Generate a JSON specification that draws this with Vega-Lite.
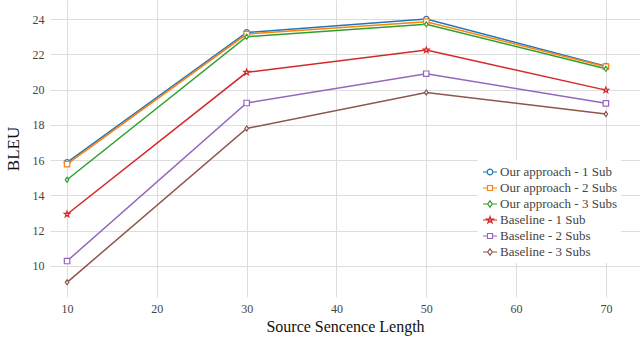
{
  "$schema": "https://vega.github.io/schema/vega-lite/v6.json",
  "width": 590,
  "height": 297,
  "autosize": {"type": "none"},
  "padding": {"left": 50, "top": 0, "right": 0, "bottom": 40},
  "background": "white",
  "config": {
    "view": {"stroke": null},
    "font": "Liberation Serif",
    "axis": {"labelFont": "Liberation Serif", "titleFont": "Liberation Serif", "gridColor": "#dddddd", "domain": false, "ticks": false, "labelColor": "#444444", "labelFontSize": 12, "titleFontSize": 17, "titleFontWeight": "normal", "titleColor": "#111111"}
  },
  "data": {"values": [
    {"len": 10, "bleu": 15.87, "s": "Our approach - 1 Sub"},
    {"len": 30, "bleu": 23.24, "s": "Our approach - 1 Sub"},
    {"len": 50, "bleu": 24.0, "s": "Our approach - 1 Sub"},
    {"len": 70, "bleu": 21.33, "s": "Our approach - 1 Sub"},
    {"len": 10, "bleu": 15.77, "s": "Our approach - 2 Subs"},
    {"len": 30, "bleu": 23.15, "s": "Our approach - 2 Subs"},
    {"len": 50, "bleu": 23.85, "s": "Our approach - 2 Subs"},
    {"len": 70, "bleu": 21.3, "s": "Our approach - 2 Subs"},
    {"len": 10, "bleu": 14.89, "s": "Our approach - 3 Subs"},
    {"len": 30, "bleu": 23.0, "s": "Our approach - 3 Subs"},
    {"len": 50, "bleu": 23.7, "s": "Our approach - 3 Subs"},
    {"len": 70, "bleu": 21.18, "s": "Our approach - 3 Subs"},
    {"len": 10, "bleu": 12.93, "s": "Baseline - 1 Sub"},
    {"len": 30, "bleu": 20.98, "s": "Baseline - 1 Sub"},
    {"len": 50, "bleu": 22.24, "s": "Baseline - 1 Sub"},
    {"len": 70, "bleu": 19.97, "s": "Baseline - 1 Sub"},
    {"len": 10, "bleu": 10.28, "s": "Baseline - 2 Subs"},
    {"len": 30, "bleu": 19.24, "s": "Baseline - 2 Subs"},
    {"len": 50, "bleu": 20.9, "s": "Baseline - 2 Subs"},
    {"len": 70, "bleu": 19.22, "s": "Baseline - 2 Subs"},
    {"len": 10, "bleu": 9.07, "s": "Baseline - 3 Subs"},
    {"len": 30, "bleu": 17.8, "s": "Baseline - 3 Subs"},
    {"len": 50, "bleu": 19.84, "s": "Baseline - 3 Subs"},
    {"len": 70, "bleu": 18.61, "s": "Baseline - 3 Subs"}
  ]},
  "encoding": {
    "x": {"field": "len", "type": "quantitative", "scale": {"domain": [8.1, 73.8], "nice": false, "zero": false}, "axis": {"values": [10, 20, 30, 40, 50, 60, 70], "title": "Source Sencence Length", "titleFontSize": 16, "labelPadding": 6, "titlePadding": 4}},
    "y": {"field": "bleu", "type": "quantitative", "scale": {"domain": [8.24, 25.08], "nice": false, "zero": false}, "axis": {"values": [10, 12, 14, 16, 18, 20, 22, 24], "title": "BLEU", "labelPadding": 6, "titlePadding": 10}},
    "color": {"field": "s", "type": "nominal", "sort": null, "legend": null,
      "scale": {"domain": ["Our approach - 1 Sub", "Our approach - 2 Subs", "Our approach - 3 Subs", "Baseline - 1 Sub", "Baseline - 2 Subs", "Baseline - 3 Subs"], "range": ["#1f77b4", "#ff7f0e", "#2ca02c", "#d62728", "#9467bd", "#8c564b"]}}
  },
  "layer": [
    {"mark": {"type": "line", "strokeWidth": 1.5},
     "encoding": {
      "color": {"field": "s", "type": "nominal", "sort": null,
        "legend": {"title": null, "orient": "none", "legendX": 428, "legendY": 160, "fillColor": "white", "padding": 4, "labelFont": "Liberation Serif", "labelFontSize": 13, "labelColor": "#444444", "symbolSize": 196, "rowPadding": 1, "labelOffset": 2, "symbolStrokeWidth": 1.2,
          "encode": {"symbols": {"update": {
            "fill": {"value": "white"},
            "strokeWidth": {"value": 1.2},
            "shape": {"signal": "datum.value == 'Our approach - 1 Sub' ? 'M-1,0L-0.4,0M0.4,0L1,0M0.4,0A0.4,0.4,0,1,1,-0.4,0A0.4,0.4,0,1,1,0.4,0Z' : datum.value == 'Our approach - 2 Subs' || datum.value == 'Baseline - 2 Subs' ? 'M-1,0L-0.36,0M0.36,0L1,0M-0.36,-0.36H0.36V0.36H-0.36Z' : datum.value == 'Baseline - 1 Sub' ? 'M-1,0L1,0M0,-0.5L0.12,-0.16L0.48,-0.15L0.19,0.06L0.3,0.4L0,0.2L-0.3,0.4L-0.19,0.06L-0.48,-0.15L-0.12,-0.16Z' : 'M-1,0L-0.33,0M0.33,0L1,0M0,-0.45L0.33,0L0,0.45L-0.33,0Z'"}
          }}}}}
     }},
    {"transform": [{"filter": {"field": "s", "equal": "Our approach - 1 Sub"}}],
     "mark": {"type": "point", "shape": "circle", "filled": false, "fill": "white", "fillOpacity": 1, "size": 30, "strokeWidth": 1.2}},
    {"transform": [{"filter": {"field": "s", "equal": "Our approach - 2 Subs"}}],
     "mark": {"type": "point", "shape": "square", "filled": false, "fill": "white", "fillOpacity": 1, "size": 30, "strokeWidth": 1.2}},
    {"transform": [{"filter": {"field": "s", "equal": "Our approach - 3 Subs"}}],
     "mark": {"type": "point", "shape": "M0,-0.9L0.65,0L0,0.9L-0.65,0Z", "filled": false, "fill": "white", "fillOpacity": 1, "size": 30, "strokeWidth": 1.2}},
    {"transform": [{"filter": {"field": "s", "equal": "Baseline - 1 Sub"}}],
     "mark": {"type": "point", "shape": "M0,-1L0.24,-0.33L0.95,-0.31L0.38,0.12L0.59,0.81L0,0.4L-0.59,0.81L-0.38,0.12L-0.95,-0.31L-0.24,-0.33Z", "filled": false, "fill": "white", "fillOpacity": 1, "size": 36, "strokeWidth": 1.2}},
    {"transform": [{"filter": {"field": "s", "equal": "Baseline - 2 Subs"}}],
     "mark": {"type": "point", "shape": "square", "filled": false, "fill": "white", "fillOpacity": 1, "size": 30, "strokeWidth": 1.2}},
    {"transform": [{"filter": {"field": "s", "equal": "Baseline - 3 Subs"}}],
     "mark": {"type": "point", "shape": "M0,-0.9L0.65,0L0,0.9L-0.65,0Z", "filled": false, "fill": "white", "fillOpacity": 1, "size": 30, "strokeWidth": 1.2}}
  ]
}
